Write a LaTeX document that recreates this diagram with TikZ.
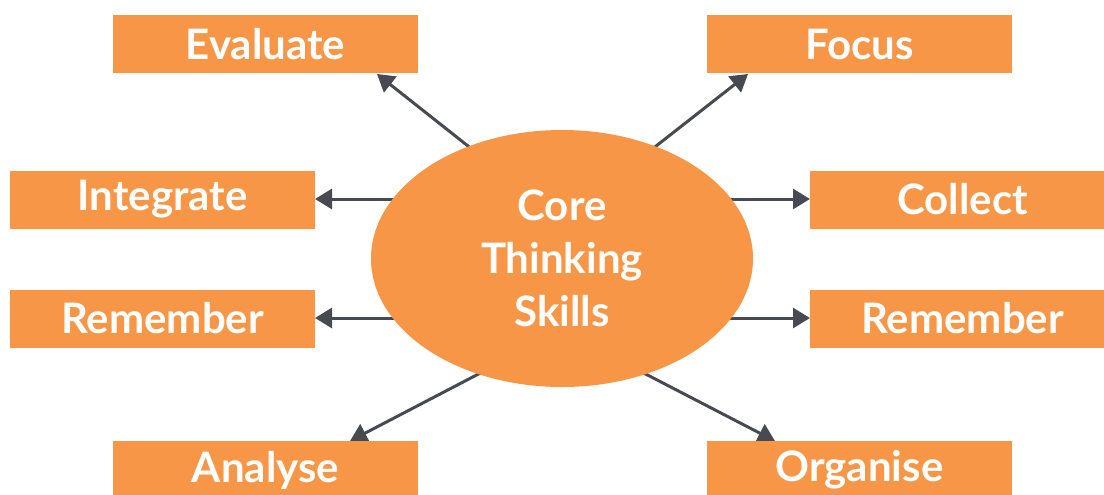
\documentclass[tikz,border=0pt]{standalone}
\usepackage{fontspec}
\setmainfont{Lato}
\usetikzlibrary{arrows.meta,shapes.geometric}
\definecolor{boxorange}{HTML}{F79646}
\definecolor{arrowgrey}{HTML}{474A50}
\pgfdeclarelayer{bg}
\pgfsetlayers{bg,main}
\begin{document}
\begin{tikzpicture}[x=0.5pt,y=-0.5pt,
  box/.style={fill=boxorange, draw=none, minimum width=152.5pt, minimum height=29pt,
    inner sep=0pt, text=white, font=\fontsize{21}{26.5}\selectfont\bfseries},
  core/.style={ellipse, fill=boxorange, draw=none, minimum width=191pt, minimum height=128.5pt,
    inner sep=0pt, text=white, align=center, font=\fontsize{21}{26.5}\selectfont\bfseries},
  link/.style={draw=arrowgrey, line width=1.5pt, -{Triangle[length=8.5pt,width=10pt]}}]
\useasboundingbox (0,0) rectangle (1104,494);
\clip (0,0) rectangle (1104,494);
% boxes
\node[box] (eval) at (265.5,44) {Evaluate};
\node[box] (focus) at (859.5,44) {Focus};
\node[box] (integ) at (162.5,199.5) {Integrate};
\node[box] (remL) at (162.5,318.5) {Remember};
\node[box] (coll) at (962.5,199.5) {Collect};
\node[box] (remR) at (962.5,318.5) {Remember};
\node[box] (ana) at (265.5,470) {Analyse};
\node[box] (org) at (859.5,470) {Organise};
% centre
\node[core] (core) at (562,258.5) {Core\\Thinking\\Skills};
% arrow ends
\coordinate (sEval) at (480,155.5);
\coordinate (tEval) at (377,74);
\coordinate (sFocus) at (644,155.5);
\coordinate (tFocus) at (748,74);
\coordinate (sInteg) at (420,199);
\coordinate (tInteg) at (315,199);
\coordinate (sRemL) at (420,318);
\coordinate (tRemL) at (315,318);
\coordinate (sColl) at (705,199);
\coordinate (tColl) at (810,199);
\coordinate (sRemR) at (705,318);
\coordinate (tRemR) at (810,318);
\coordinate (sAna) at (489,368.5);
\coordinate (tAna) at (350,441);
\coordinate (sOrg) at (635,368.5);
\coordinate (tOrg) at (775,441);
\begin{pgfonlayer}{bg}
\fill[white] (0,0) rectangle (1104,494);
\draw[link] (sEval) -- (tEval);
\draw[link] (sFocus) -- (tFocus);
\draw[link] (sInteg) -- (tInteg);
\draw[link] (sRemL) -- (tRemL);
\draw[link] (sColl) -- (tColl);
\draw[link] (sRemR) -- (tRemR);
\draw[link] (sAna) -- (tAna);
\draw[link] (sOrg) -- (tOrg);
\end{pgfonlayer}
\end{tikzpicture}
\end{document}
